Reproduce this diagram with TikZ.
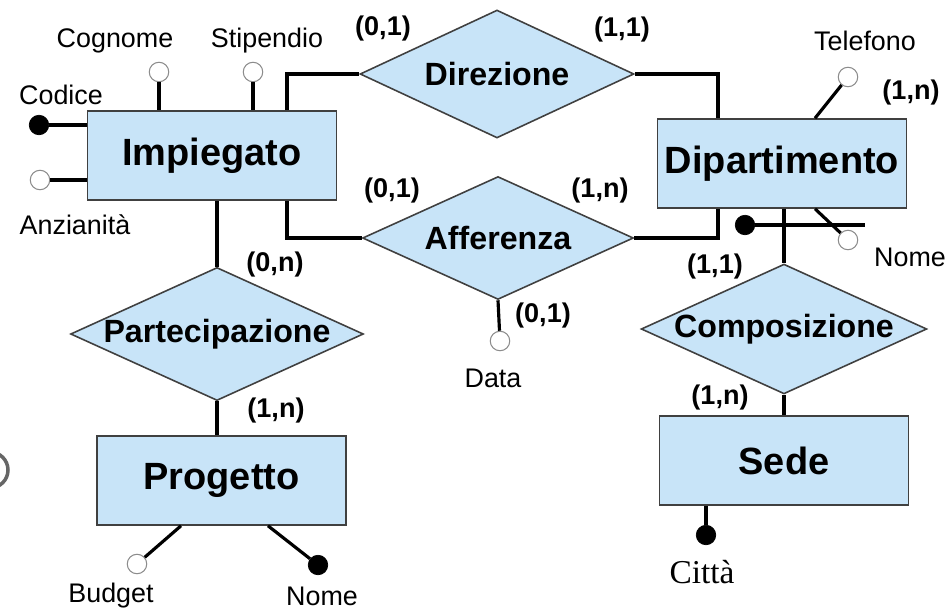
\documentclass[tikz,border=0pt]{standalone}
\usepackage{fontspec}
\setmainfont{Liberation Sans}
\newfontfamily\serifcity{Liberation Serif}
\usetikzlibrary{shapes.geometric, positioning}
\definecolor{erblue}{RGB}{200,228,248}

\begin{document}
\begin{tikzpicture}[x=0.02cm, y=-0.02cm,
			every node/.style={inner sep=0pt},
			entity/.style={draw=black!75, fill=erblue, line width=0.9pt,
				minimum width=4.98cm, minimum height=1.78cm,
				font=\fontsize{21.6}{24}\selectfont\bfseries},
			relation/.style={diamond, aspect=2.2, draw=black!75, fill=erblue, line width=0.9pt,
				font=\fontsize{18.3}{21}\selectfont\bfseries},
			attr/.style={circle, draw=black!45, fill=white, line width=0.6pt, minimum size=0.39cm},
			keyattr/.style={circle, draw=black, fill=black, minimum size=0.39cm},
			lbl/.style={font=\fontsize{15.3}{18}\selectfont},
			card/.style={font=\fontsize{15.4}{18}\selectfont\bfseries},
			link/.style={line width=1.8pt}
			]
			\useasboundingbox (0,0) rectangle (951,609);
			
			% Entities
			\node[entity] (imp) at (212,155.5) {Impiegato};
			\node[entity] (dip) at (782,163.5) {Dipartimento};
			\node[entity] (prog) at (221.5,480.5) {Progetto};
			\node[entity] (sede) at (784,460.5) {Sede};
			
			% Relationships
			\node[relation, minimum width=5.48cm, minimum height=2.56cm] (dir) at (497,74) {Direzione};
			\node[relation, minimum width=5.42cm, minimum height=2.46cm] (aff) at (498,238) {Afferenza};
			\node[relation, minimum width=5.8cm, minimum height=2.64cm] (part) at (217,334) {Partecipazione};
			\node[relation, minimum width=5.54cm, minimum height=2.56cm] (comp) at (784,329) {Composizione};
			
			% Helper columns
			\coordinate (xImpR) at (287,0);
			\coordinate (xDipL) at (718,0);
			\coordinate (xTelNome) at (815,0);
			\coordinate (xBud) at (181,0);
			\coordinate (xNomeP) at (268,0);
			
			% Links
			\draw[link] (imp.north -| xImpR) |- (dir.west);
			\draw[link] (dir.east) -| (dip.north -| xDipL);
			\draw[link] (imp.south -| xImpR) |- (aff.west);
			\draw[link] (aff.east) -| (dip.south -| xDipL);
			\draw[link] (imp.south -| part.north) -- (part.north);
			\draw[link] (part.south) -- (part.south |- prog.north);
			\draw[link] (dip.south -| comp.north) -- (comp.north);
			\draw[link] (comp.south) -- (comp.south |- sede.north);
			
			% Attributes - Impiegato
			\node[keyattr] (aCodice) at (39,125) {};
			\node[attr] (aAnz) at (40,180) {};
			\node[attr] (aCogn) at (159,72) {};
			\node[attr] (aStip) at (253,72) {};
			\draw[link] (aCodice) -- (aCodice -| imp.west);
			\draw[link] (aAnz) -- (aAnz -| imp.west);
			\draw[link] (aCogn) -- (aCogn |- imp.north);
			\draw[link] (aStip) -- (aStip |- imp.north);
			
			% Attributes - Dipartimento
			\node[attr] (aTel) at (848,77) {};
			\node[attr] (aNomeD) at (848,240) {};
			\draw[link] (dip.north -| xTelNome) -- (aTel);
			\draw[link] (dip.south -| xTelNome) -- (aNomeD);
			\node[keyattr] (kDip) at (745,225) {};
			\coordinate (kEnd) at (865,225);
			\draw[link] (kDip) -- (kEnd);
			
			% Attributes - Afferenza, Progetto, Sede
			\node[attr] (aData) at (500,341) {};
			\draw[link] (aff.south) -- (aData);
			\node[attr] (aBudget) at (137,564) {};
			\node[keyattr] (aNomeP) at (318,565) {};
			\draw[link] (prog.south -| xBud) -- (aBudget);
			\draw[link] (prog.south -| xNomeP) -- (aNomeP);
			\node[keyattr] (aCitta) at (706,535) {};
			\draw[link] (aCitta |- sede.south) -- (aCitta);
			
			% Attribute names
			\node[lbl] (lCodice) at (61,95) {Codice};
			\node[lbl] (lAnz) at (75,225) {Anzianità};
			\node[lbl] (lCogn) at (115,41) {Cognome};
			\node[lbl] (lStip) at (267,41) {Stipendio};
			\node[lbl] (lTel) at (865,41) {Telefono};
			\node[lbl] (lNomeD) at (910,257) {Nome};
			\node[lbl] (lData) at (493,378) {Data};
			\node[lbl] (lBudget) at (111,596) {Budget};
			\node[lbl] (lNomeP) at (322,596) {Nome};
			\node[font=\serifcity\fontsize{19}{22}\selectfont] (lCitta) at (702,572) {Città};
			
			% Cardinalities
			\node[card] (cDirImp) at (383,29) {(0,1)};
			\node[card] (cDirDip) at (622,30) {(1,1)};
			\node[card] (cAffImp) at (392,190) {(0,1)};
			\node[card] (cAffDip) at (600,190) {(1,n)};
			\node[card] (cPartImp) at (275,264) {(0,n)};
			\node[card] (cPartProg) at (276,410) {(1,n)};
			\node[card] (cCompDip) at (715,266) {(1,1)};
			\node[card] (cCompSede) at (720,397) {(1,n)};
			\node[card] (cTel) at (911,93) {(1,n)};
			\node[card] (cData) at (543,315) {(0,1)};
			
			% cut-off circle at the left edge
			\draw[black!60, line width=2pt] (-10,470) circle (0.36cm);
			
		\end{tikzpicture}
\end{document}
